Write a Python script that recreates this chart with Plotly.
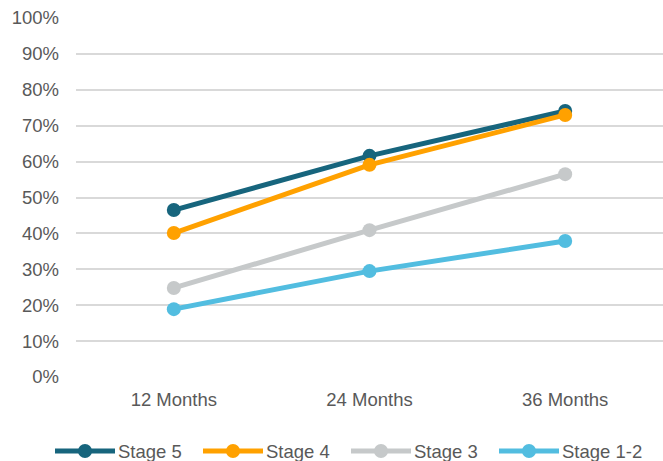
import plotly.graph_objects as go

categories = ["12 Months", "24 Months", "36 Months"]
series_names = ["Stage 5", "Stage 4", "Stage 3", "Stage 1-2"]
stage5 = [0.465, 0.616, 0.741]
stage4 = [0.401, 0.591, 0.730]
stage3 = [0.248, 0.409, 0.565]
stage12 = [0.189, 0.295, 0.379]
colors = ["#17657D", "#FFA100", "#C6C9CA", "#52BDE0"]
y_ticks = [i / 10 for i in range(11)]

W, H = 663, 461
ML, MR, MT, MB = 76, 0, 18, 84
PW, PH = W - ML - MR, H - MT - MB
FS = 18.5
TXT = "#595959"

fig = go.Figure()
for name, vals, c in zip(series_names, [stage5, stage4, stage3, stage12], colors):
    fig.add_trace(go.Scatter(
        x=categories, y=vals, name=name, mode="lines+markers",
        line=dict(color=c, width=5), marker=dict(color=c, size=14),
        showlegend=False,
    ))

# custom legend (wide line symbols like the original)
def px_x(p):
    return (p - ML) / PW

def px_y(p):
    return (H - MB - p) / PH

leg_y = px_y(451)
start, step, sym_len = 55, 148, 60
for i, (name, c) in enumerate(zip(series_names, colors)):
    x0 = start + i * step
    fig.add_shape(type="line", xref="paper", yref="paper",
                  x0=px_x(x0), x1=px_x(x0 + sym_len), y0=leg_y, y1=leg_y,
                  line=dict(color=c, width=5))
    fig.add_shape(type="circle", xref="paper", yref="paper",
                  xsizemode="pixel", ysizemode="pixel",
                  xanchor=px_x(x0 + sym_len / 2), yanchor=leg_y,
                  x0=-7, x1=7, y0=-7, y1=7,
                  fillcolor=c, line=dict(color=c, width=0))
    fig.add_annotation(xref="paper", yref="paper", x=px_x(x0 + sym_len + 1), y=leg_y,
                       text=name, showarrow=False, xanchor="left", yanchor="middle",
                       font=dict(size=FS, color=TXT))

fig.update_layout(
    width=W, height=H,
    margin=dict(l=ML, r=MR, t=MT, b=MB),
    paper_bgcolor="white", plot_bgcolor="white",
    font=dict(family="Liberation Sans, Arial, sans-serif", size=FS, color=TXT),
    showlegend=False,
    xaxis=dict(type="category", range=[-0.5, 2.5], showgrid=False, showline=False,
               ticks="", zeroline=False, ticklabelstandoff=9),
    yaxis=dict(range=[0, 1], tickvals=y_ticks, tickformat=".0%", showgrid=True,
               gridcolor="#D9D9D9", gridwidth=2, zeroline=False, showline=False,
               ticklabelstandoff=16),
)
fig.write_html("out.html")
